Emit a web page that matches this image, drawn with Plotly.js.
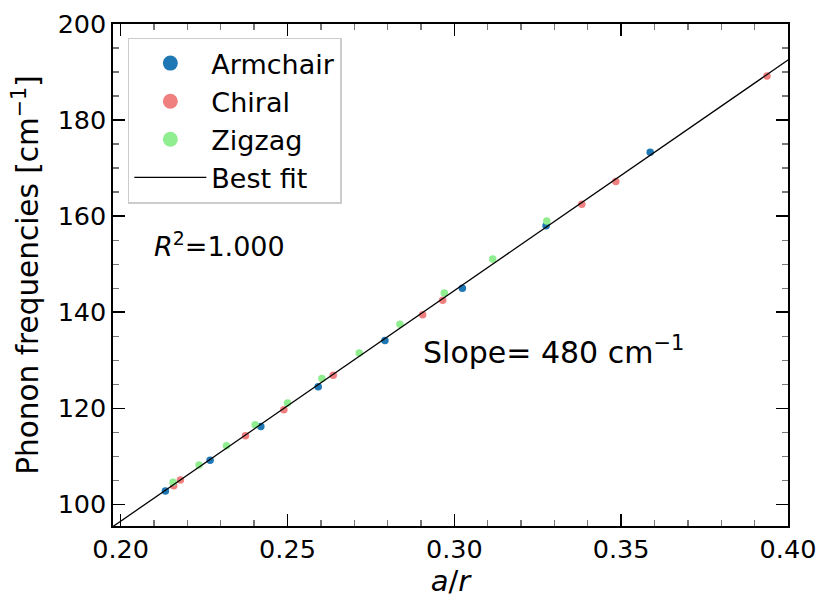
<!DOCTYPE html>
<html>
<head>
<meta charset="utf-8">
<script src="https://cdn.plot.ly/plotly-3.0.1.min.js"></script>
<style>html,body{margin:0;padding:0;background:#fff;}#chart{width:831px;height:609px;}</style>
</head>
<body>
<div id="chart"></div>
<script>
// Armchair
var armchairX = [0.2134, 0.2268, 0.2420, 0.2592, 0.2792, 0.3024, 0.3275, 0.3587];
var armchairY = [102.8, 109.2, 116.2, 124.5, 134.1, 145.0, 158.0, 173.3];
// Chiral
var chiralX = [0.2159, 0.2179, 0.2374, 0.2489, 0.2637, 0.2905, 0.2965, 0.3382, 0.3484, 0.3937];
var chiralY = [103.9, 105.1, 114.3, 119.7, 126.9, 139.5, 142.5, 162.5, 167.2, 189.2];
// Zigzag
var zigzagX = [0.2157, 0.2235, 0.2317, 0.2403, 0.2500, 0.2603, 0.2715, 0.2837, 0.2970, 0.3115, 0.3277];
var zigzagY = [104.6, 108.2, 112.2, 116.6, 121.1, 126.2, 131.5, 137.5, 144.0, 151.1, 159.0];
// Best fit
var fitSlope = 480;
var fitIntercept = 0.5;
var fitX = [0.19, 0.41];
var fitY = fitX.map(function (x) { return fitSlope * x + fitIntercept; });

var xTickVals = [0.20, 0.25, 0.30, 0.35, 0.40];
var xTickText = ['0.20', '0.25', '0.30', '0.35', '0.40'];
var yTickVals = [100, 120, 140, 160, 180, 200];
var yTickText = ['100', '120', '140', '160', '180', '200'];

var FONT = 'DejaVu Sans, sans-serif';
var C_ARM = '#1f77b4', C_CHI = '#f08080', C_ZIG = '#90ee90';

var traces = [
  {x: armchairX, y: armchairY, mode: 'markers', type: 'scatter', name: 'Armchair', showlegend: false,
   marker: {color: C_ARM, size: 7.5}},
  {x: chiralX, y: chiralY, mode: 'markers', type: 'scatter', name: 'Chiral', showlegend: false,
   marker: {color: C_CHI, size: 7.5}},
  {x: zigzagX, y: zigzagY, mode: 'markers', type: 'scatter', name: 'Zigzag', showlegend: false,
   marker: {color: C_ZIG, size: 7.5}},
  {x: fitX, y: fitY, mode: 'lines', type: 'scatter', name: 'Best fit', showlegend: false,
   line: {color: '#000', width: 1.3}},
  // legend entries (larger symbols, as in the reference legend)
  {x: [null], y: [null], mode: 'markers', type: 'scatter', name: 'Armchair', legendgroup: 'a',
   marker: {color: C_ARM, size: 15}},
  {x: [null], y: [null], mode: 'markers', type: 'scatter', name: 'Chiral', legendgroup: 'b',
   marker: {color: C_CHI, size: 15}},
  {x: [null], y: [null], mode: 'markers', type: 'scatter', name: 'Zigzag', legendgroup: 'c',
   marker: {color: C_ZIG, size: 15}},
  {x: [null], y: [null], mode: 'lines', type: 'scatter', name: 'Best fit', legendgroup: 'd',
   line: {color: '#000', width: 1.3}}
];

var axisCommon = {
  showgrid: false, zeroline: false, showline: true, linecolor: '#000', linewidth: 1.6,
  mirror: 'allticks', ticks: 'inside', ticklen: 12, tickwidth: 1.6, tickcolor: '#000',
  tickfont: {family: FONT, size: 25.5, color: '#000'}
};

var layout = {
  width: 831, height: 609,
  margin: {l: 113, r: 43, t: 24, b: 83, pad: 0},
  paper_bgcolor: '#fff', plot_bgcolor: '#fff',
  font: {family: FONT, color: '#000'},
  showlegend: true,
  xaxis: Object.assign({}, axisCommon, {
    range: [0.1977, 0.40], tickvals: xTickVals, ticktext: xTickText,
    minor: {dtick: 0.01, ticks: 'inside', ticklen: 6, tickwidth: 1.3, tickcolor: '#777'},
    title: {text: '<i>a</i>/<i>r</i>', font: {family: FONT, size: 29, color: '#000'}, standoff: 5}
  }),
  yaxis: Object.assign({}, axisCommon, {
    range: [95.5, 200], tickvals: yTickVals, ticktext: yTickText,
    minor: {dtick: 5, ticks: 'inside', ticklen: 6, tickwidth: 1.3, tickcolor: '#777'},
    title: {text: 'Phonon frequencies [cm<sup>\u22121</sup>]', font: {family: FONT, size: 29.5, color: '#000'}, standoff: 10}
  }),
  legend: {
    x: 0.022, y: 0.973, xanchor: 'left', yanchor: 'top',
    bgcolor: '#fff', bordercolor: '#cccccc', borderwidth: 1.5,
    font: {family: FONT, size: 27, color: '#000'},
    itemsizing: 'trace', itemwidth: 72, tracegroupgap: 0
  },
  annotations: [
    {xref: 'paper', yref: 'paper', x: (219 - 113) / 675, y: 1 - (244 - 24) / 502,
     xanchor: 'center', yanchor: 'middle', showarrow: false,
     text: '<i>R</i><sup>2</sup>=1.000', font: {family: FONT, size: 27, color: '#000'}},
    {xref: 'paper', yref: 'paper', x: (553 - 113) / 675, y: 1 - (350 - 24) / 502,
     xanchor: 'center', yanchor: 'middle', showarrow: false,
     text: 'Slope= 480 cm<sup>\u22121</sup>', font: {family: FONT, size: 30, color: '#000'}}
  ]
};

Plotly.newPlot('chart', traces, layout, {displayModeBar: false, staticPlot: true});
</script>
</body>
</html>
